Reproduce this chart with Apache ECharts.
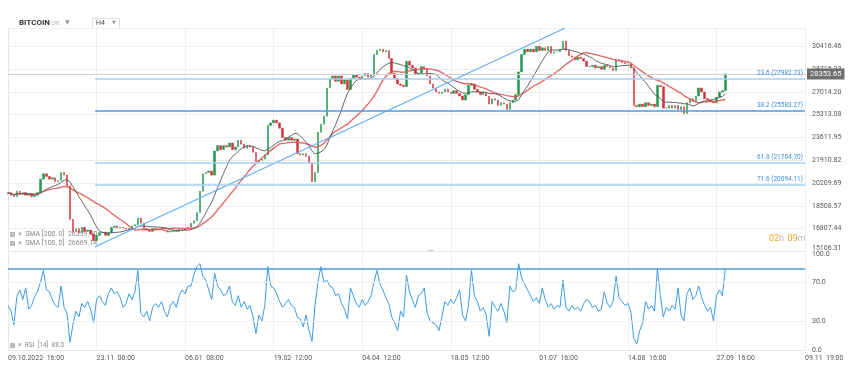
<!DOCTYPE html>
<html>
<head>
<meta charset="utf-8">
<script src="https://cdn.jsdelivr.net/npm/echarts@6/dist/echarts.min.js"></script>
<style>
html, body { margin: 0; padding: 0; background: #fff; }
#chart { width: 861px; height: 378px; }
</style>
</head>
<body>
<div id="chart"></div>
<script>
// time axis: one label every 30 slots, one slot ~ 8.8 H4 candles
var tickLabels = ['09.10.2022  16:00', '23.11  00:00', '06.01  08:00', '19.02  12:00', '04.04  12:00',
    '18.05  12:00', '01.07  16:00', '14.08  16:00', '27.09  16:00', '09.11  19:00'];
var priceTicks = [15106.31, 16807.44, 18508.57, 20209.69, 21910.82, 23611.95, 25313.08, 27014.21, 28715.33, 30416.46];
var rsiTicks = [0, 30, 70, 100];

// closes per slot
var closes = [
    19500, 19300, 19200, 19600, 19400, 19500, 19300, 19400, 19200, 19300,
    19500, 20500, 20900, 20700, 20500, 20600, 20300, 20400, 21000, 20800,
    20000, 17500, 16600, 16800, 16500, 16900, 16600, 16700, 16400, 15900,
    16300, 16500, 16550, 16300, 16500, 16900, 17000, 16850, 16900, 16850,
    16800, 16850, 17000, 17100, 17600, 17200, 16800, 16700, 16600, 16800,
    16700, 16750, 16700, 16650, 16550, 16600, 16700, 16600, 16750, 16700,
    16800, 16900, 17200, 17400, 18000, 19600, 20900, 21000, 21100, 20800,
    22600, 23000, 22700, 23000, 22900, 23200, 22700, 22900, 23400, 23100,
    22800, 23000, 22900, 22500, 21800, 21900, 22000, 22300, 24500, 24700,
    24900, 24700, 24300, 23600, 23400, 23600, 23400, 23500, 22400, 22300,
    22400, 22200, 21700, 20300, 21000, 24000, 24600, 25200, 27300, 28000,
    28200, 27800, 28200, 27600, 27900, 27200, 28000, 28300, 28100, 28000,
    28200, 28400, 28100, 28300, 29800, 30100, 30200, 30000, 30100, 29500,
    28400, 28000, 27600, 27500, 27400, 29300, 29000, 28800, 28300, 28400,
    28900, 28700, 28200, 27600, 27300, 27000, 26900, 27000, 27200, 27000,
    26900, 27100, 26900, 26700, 26400, 26800, 27500, 27600, 27200, 27000,
    26800, 27000, 26700, 26100, 26500, 26400, 26000, 26200, 26100, 25700,
    26200, 26400, 26800, 28500, 29800, 30200, 30000, 30200, 30000, 30400,
    30100, 30300, 30100, 30400, 29900, 30000, 30000, 30200, 30800, 30100,
    29700, 29600, 29400, 29600, 29500, 29300, 28900, 28900, 29000, 28800,
    28900, 28700, 29000, 28900, 28800, 28600, 29400, 29300, 29200, 29100,
    29100, 28800, 26000, 25900, 26100, 25900, 26200, 26000, 26100, 25900,
    27500, 27400, 25800, 25800, 26000, 25800, 26000, 25700, 25900, 25400,
    26200, 26500, 26300, 26700, 27300, 27000, 26500, 26400, 26300, 26200,
    26600, 27000, 27100, 28353.65
];
var firstOpen = 19400;

var rsi14 = [
    46, 40, 26, 55, 62, 52, 64, 42, 46, 55,
    60, 70, 82, 62, 60, 52, 46, 44, 66, 44,
    38, 8, 26, 40, 34, 48, 44, 50, 42, 28,
    52, 56, 50, 46, 58, 64, 58, 60, 54, 44,
    48, 58, 52, 60, 82, 38, 34, 40, 30, 44,
    48, 44, 50, 40, 34, 46, 50, 44, 56, 62,
    58, 66, 66, 78, 86, 89, 76, 72, 62, 52,
    79, 66, 62, 56, 58, 66, 50, 46, 56, 44,
    50, 42, 46, 34, 17, 36, 30, 46, 86, 66,
    64, 58, 50, 44, 48, 52, 46, 44, 34, 32,
    24, 36, 20, 9, 46, 70, 86, 70, 72, 66,
    64, 56, 58, 48, 42, 32, 64, 56, 48, 44,
    52, 46, 50, 56, 70, 82, 68, 62, 54, 48,
    34, 28, 20, 40, 34, 77, 60, 52, 44, 56,
    58, 64, 38, 30, 28, 26, 20, 34, 50, 46,
    52, 48, 54, 62, 36, 30, 46, 82, 56, 50,
    40, 44, 36, 14, 50, 44, 40, 48, 40, 28,
    66, 60, 62, 89, 74, 68, 62, 56, 50, 54,
    48, 64, 52, 44, 48, 42, 46, 44, 72, 44,
    40, 46, 42, 44, 40, 48, 52, 50, 44, 46,
    40, 42, 60, 48, 44, 50, 76, 54, 50, 46,
    48, 40, 12, 6, 20, 28, 50, 42, 46, 40,
    84, 56, 34, 44, 40, 46, 42, 64, 36, 30,
    58, 64, 52, 56, 66, 54, 46, 40, 44, 30,
    56, 62, 56, 84
];

var fibLevels = [['23.6', 27982.73], ['38.2', 25583.27], ['61.8', 21704.70], ['71.6', 20094.11]];
var fibStart = 29.5;
var trendLine = [[29.5, 15458], [188.6, 31760]];
var lastPrice = 28353.65;
var rsiLevel = 84;
var smaLegend = [['SMA [200, 0]', '26359.40'], ['SMA [100, 0]', '26669.14']];
var smaFast = 11;   // 100 H4 candles
var smaSlow = 23;   // 200 H4 candles

var slots = (tickLabels.length - 1) * 30;
var priceStep = (priceTicks[priceTicks.length - 1] - priceTicks[0]) / (priceTicks.length - 1);

var candles = closes.map(function (c, i) {
    var o = i === 0 ? firstOpen : closes[i - 1];
    return [i, o, c, Math.min(o, c), Math.max(o, c)];
});

function sma(n) {
    return closes.map(function (c, i) {
        var s = Math.max(0, i - n + 1), sum = 0;
        for (var k = s; k <= i; k++) sum += closes[k];
        return [i, sum / (i - s + 1)];
    });
}

var chart = echarts.init(document.getElementById('chart'));

var fibLines = fibLevels.map(function (f) {
    var strong = f[0] === '38.2';
    return [{
        coord: [fibStart, f[1]],
        lineStyle: { color: strong ? '#4a9be6' : '#a7cff4', width: strong ? 1.5 : 1.6, type: 'solid' },
        label: {
            show: true, position: 'insideEndTop', distance: 2, color: '#3d8fe0', fontSize: 6.5,
            formatter: f[0] + ' (' + f[1].toFixed(2) + ')'
        }
    }, { coord: [slots, f[1]] }];
});

var xBase = {
    type: 'value', min: 0, max: slots, interval: 30,
    axisTick: { show: false },
    axisLine: { show: true, lineStyle: { color: '#e6e6e6' } },
    splitLine: { show: true, lineStyle: { color: '#eeeeee' } }
};

chart.setOption({
    animation: false,
    textStyle: { fontFamily: 'Roboto, sans-serif' },
    grid: [
        { left: 8, right: 56, top: 28, height: 223.4 },
        { left: 8, right: 56, top: 253, height: 97 }
    ],
    xAxis: [
        Object.assign({}, xBase, { gridIndex: 0, axisLabel: { show: false } }),
        Object.assign({}, xBase, {
            gridIndex: 1,
            axisLabel: {
                color: '#555', fontSize: 7, margin: 5, align: 'left',
                formatter: function (v) { return tickLabels[Math.round(v / 30)]; }
            }
        })
    ],
    yAxis: [
        {
            type: 'value', gridIndex: 0, position: 'right',
            min: priceTicks[0], max: priceTicks[0] + priceStep * 9.8, interval: priceStep,
            axisLine: { show: true, lineStyle: { color: '#e6e6e6' } }, axisTick: { show: false },
            axisLabel: {
                color: '#555', fontSize: 7, margin: 7, showMaxLabel: false,
                formatter: function (v) {
                    var s = v.toFixed(2);
                    return Math.abs(v - priceTicks[0]) < 0.01 ? '{b|' + s + '}' : s;
                },
                rich: { b: { color: '#555', fontSize: 7, padding: [0, 0, 7, 0] } }
            },
            splitLine: { lineStyle: { color: '#eeeeee' } }
        },
        {
            type: 'value', gridIndex: 1, position: 'right', min: 0, max: 100, interval: 10,
            axisLine: { show: true, lineStyle: { color: '#e6e6e6' } }, axisTick: { show: false },
            axisLabel: {
                color: '#555', fontSize: 7, margin: 7,
                formatter: function (v) {
                    if (rsiTicks.indexOf(v) < 0) return '';
                    return v === 100 ? '{t|' + v.toFixed(1) + '}' : v.toFixed(1);
                },
                rich: { t: { color: '#555', fontSize: 7, padding: [3, 0, 0, 0] } }
            },
            splitLine: { show: false }
        }
    ],
    series: [
        {
            type: 'candlestick', xAxisIndex: 0, yAxisIndex: 0,
            data: candles, encode: { x: 0, y: [1, 2, 3, 4] },
            barWidth: 2,
            itemStyle: {
                color: '#23964c', color0: '#d6323b',
                borderColor: '#23964c', borderColor0: '#d6323b', borderWidth: 0.5
            },
            markLine: {
                silent: true, symbol: ['none', 'none'], animation: false,
                lineStyle: { type: 'solid' },
                data: [
                    {
                        yAxis: lastPrice,
                        lineStyle: { color: '#cfcfcf', width: 1, type: 'solid' },
                        label: {
                            show: true, position: 'end', distance: 2, color: '#fff', fontSize: 7.5,
                            backgroundColor: '#6e6e6e', padding: [2, 3, 1, 3],
                            formatter: lastPrice.toFixed(2)
                        }
                    },
                    [{
                        coord: trendLine[0],
                        lineStyle: { color: '#62aef2', width: 1.2, type: 'solid' },
                        label: { show: false }
                    }, { coord: trendLine[1] }]
                ].concat(fibLines)
            }
        },
        {
            name: 'SMA 200', type: 'line', xAxisIndex: 0, yAxisIndex: 0, data: sma(smaSlow),
            showSymbol: false, lineStyle: { color: 'rgba(222,80,80,0.85)', width: 1.4 }, z: 3
        },
        {
            name: 'SMA 100', type: 'line', xAxisIndex: 0, yAxisIndex: 0, data: sma(smaFast),
            showSymbol: false, lineStyle: { color: '#555', width: 0.9 }, z: 3
        },
        {
            name: 'RSI', type: 'line', xAxisIndex: 1, yAxisIndex: 1,
            data: rsi14.map(function (v, i) { return [i, v]; }),
            showSymbol: false, lineStyle: { color: '#3b9be8', width: 1 },
            markLine: {
                silent: true, symbol: ['none', 'none'], animation: false, label: { show: false },
                data: [
                    { yAxis: 30, lineStyle: { color: '#eeeeee', width: 1, type: 'solid' } },
                    { yAxis: 70, lineStyle: { color: '#eeeeee', width: 1, type: 'solid' } },
                    { yAxis: rsiLevel, lineStyle: { color: '#4a9be6', width: 1.6, type: 'solid' } }
                ]
            }
        }
    ],
    graphic: [
        { type: 'text', left: 19, top: 19, style: { text: 'BITCOIN', fill: '#333', font: 'bold 8px Roboto' } },
        { type: 'text', left: 51, top: 21, style: { text: 'CRT', fill: '#aaa', font: '5px Roboto' } },
        { type: 'text', left: 65, top: 19, style: { text: '▼', fill: '#999', font: '6px DejaVu Sans' } },
        { type: 'rect', shape: { x: 92.5, y: 18.5, width: 27, height: 10 }, style: { fill: '#fff', stroke: '#dddddd', lineWidth: 1 } },
        { type: 'text', left: 96, top: 20, style: { text: 'H4', fill: '#444', font: '7px Roboto' } },
        { type: 'text', left: 112, top: 20.5, style: { text: '▼', fill: '#999', font: '5px DejaVu Sans' } },
        { type: 'rect', z: 1, shape: { x: 10, y: 232, width: 5, height: 5 }, style: { fill: '#bbb' } },
        { type: 'text', z: 1, left: 18, top: 230.5, style: { text: '×  ' + smaLegend[0][0] + '  ' + smaLegend[0][1], fill: '#888', font: '7px Roboto' } },
        { type: 'rect', z: 1, shape: { x: 10, y: 241, width: 5, height: 5 }, style: { fill: '#bbb' } },
        { type: 'text', z: 1, left: 18, top: 239.5, style: { text: '×  ' + smaLegend[1][0] + '  ' + smaLegend[1][1], fill: '#888', font: '7px Roboto' } },
        { type: 'rect', z: 1, shape: { x: 10, y: 343, width: 5, height: 5 }, style: { fill: '#bbb' } },
        { type: 'text', z: 1, left: 18, top: 342, style: { text: '×  RSI  [14]  88.0', fill: '#888', font: '6.5px Roboto' } },
        { type: 'rect', shape: { x: 428, y: 250.5, width: 6, height: 1 }, style: { fill: '#999' } },
        {
            type: 'text', left: 769, top: 233,
            style: {
                text: '{o|02}{g|h} {o|09}{g|m}',
                rich: {
                    o: { fill: '#f5a623', font: '9px Roboto' },
                    g: { fill: '#bbb', font: '9px Roboto' }
                }
            }
        }
    ]
});
</script>
</body>
</html>
